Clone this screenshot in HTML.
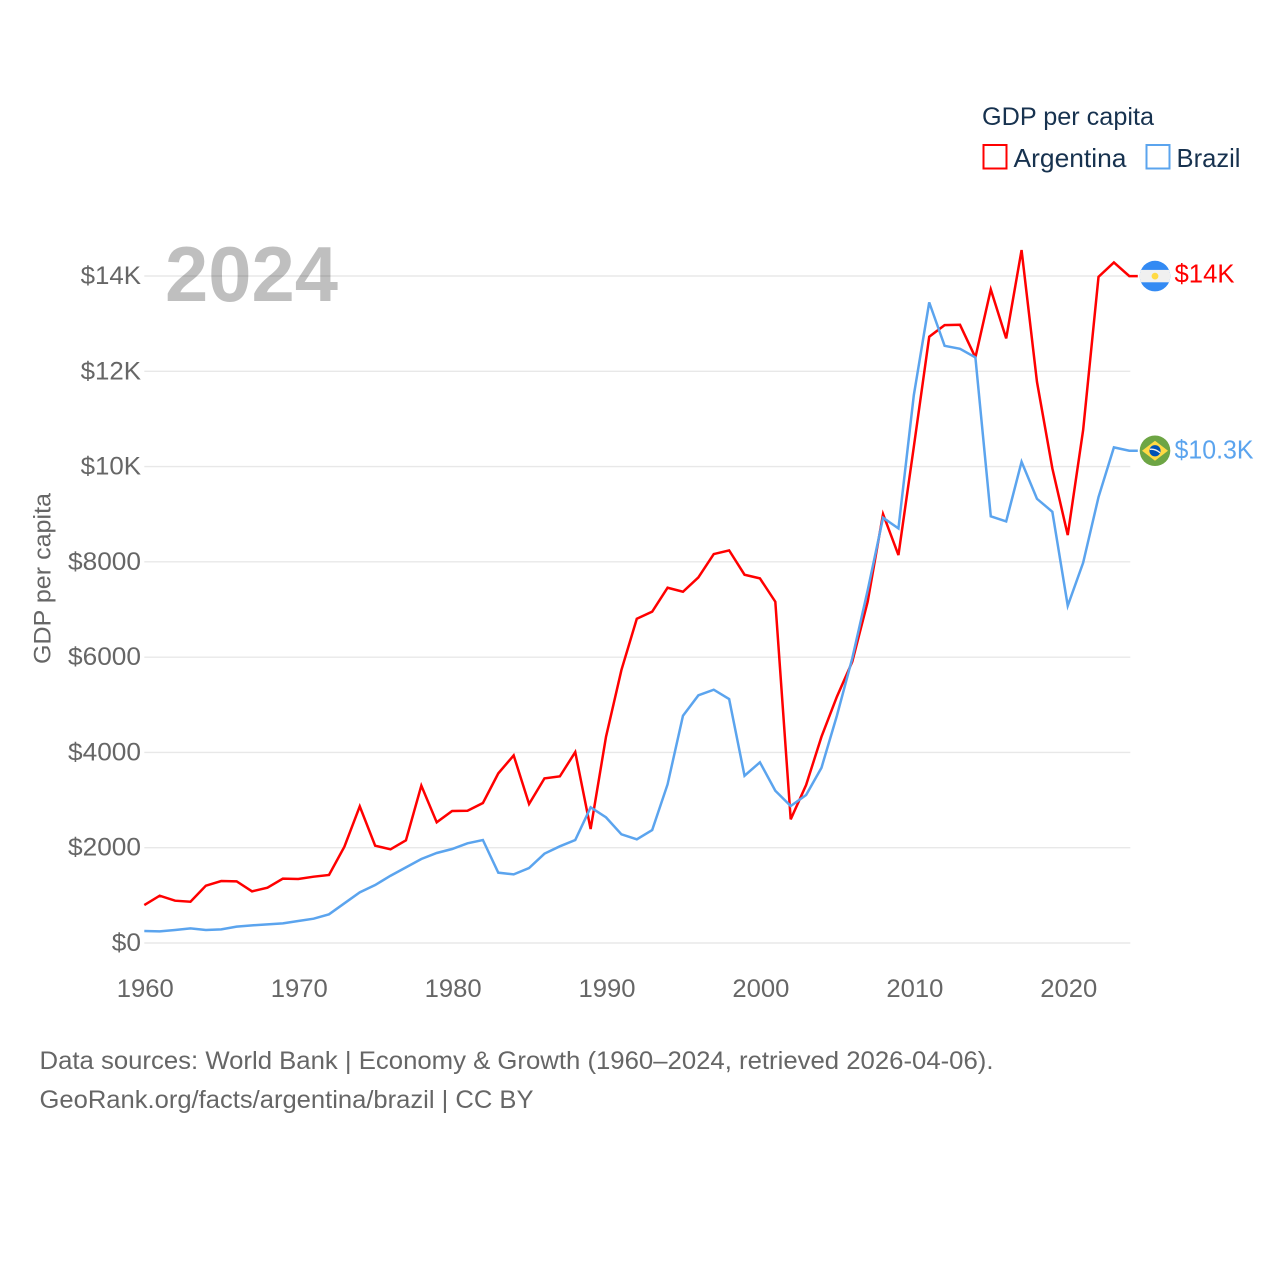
<!DOCTYPE html>
<html lang="en">
<head>
<meta charset="utf-8">
<title>GDP per capita: Argentina and Brazil</title>
<style>
html,body{margin:0;padding:0;background:#fff;width:1280px;height:1280px;overflow:hidden}
svg{display:block}
text{font-family:"Liberation Sans",sans-serif}
</style>
</head>
<body>
<svg id="chart" xmlns="http://www.w3.org/2000/svg" width="1280" height="1280" viewBox="0 0 1280 1280">
  <rect x="0" y="0" width="1280" height="1280" fill="#ffffff"/>
  <defs>
    <clipPath id="flag-clip-ar"><circle cx="0" cy="0" r="15.3"/></clipPath>
    <clipPath id="flag-clip-br"><circle cx="0" cy="0" r="15.3"/></clipPath>
  </defs>
  <g id="grid"></g>
  <g id="y-ticks"></g>
  <g id="x-ticks"></g>
  <text x="165" y="301" font-size="78" font-weight="bold" fill="#000000" fill-opacity="0.25" textLength="173" lengthAdjust="spacingAndGlyphs">2024</text>
  <text transform="translate(50.5,664) rotate(-90)" font-size="24.5" fill="#666666" textLength="171" lengthAdjust="spacingAndGlyphs">GDP per capita</text>
  <g id="series"></g>
  <g id="end-markers"></g>
  <g>
    <text x="982" y="125" font-size="25" fill="#17324f" textLength="172" lengthAdjust="spacingAndGlyphs">GDP per capita</text>
    <rect x="983.5" y="145" width="23" height="23.5" fill="none" stroke="#ff0000" stroke-width="2"/>
    <text x="1013.5" y="167" font-size="26" fill="#17324f" textLength="113" lengthAdjust="spacingAndGlyphs">Argentina</text>
    <rect x="1146.5" y="145" width="23" height="23.5" fill="none" stroke="#5ba4ee" stroke-width="2"/>
    <text x="1176.5" y="167" font-size="26" fill="#17324f" textLength="64" lengthAdjust="spacingAndGlyphs">Brazil</text>
  </g>
  <g>
    <text x="39.5" y="1069" font-size="25" fill="#666666" textLength="954" lengthAdjust="spacingAndGlyphs">Data sources: World Bank | Economy &amp; Growth (1960–2024, retrieved 2026-04-06).</text>
    <text x="39.5" y="1108" font-size="25" fill="#666666" textLength="494" lengthAdjust="spacingAndGlyphs">GeoRank.org/facts/argentina/brazil | CC BY</text>
  </g>
</svg>
<script>
const years = [1960,1961,1962,1963,1964,1965,1966,1967,1968,1969,1970,1971,1972,1973,1974,1975,1976,1977,1978,1979,1980,1981,1982,1983,1984,1985,1986,1987,1988,1989,1990,1991,1992,1993,1994,1995,1996,1997,1998,1999,2000,2001,2002,2003,2004,2005,2006,2007,2008,2009,2010,2011,2012,2013,2014,2015,2016,2017,2018,2019,2020,2021,2022,2023,2024];
const argentinaValues = [797,993,888,867,1203,1301,1294,1084,1161,1350,1343,1392,1427,2022,2868,2043,1966,2155,3302,2533,2770,2777,2938,3560,3938,2917,3455,3497,4008,2392,4330,5729,6806,6954,7457,7373,7674,8164,8241,7730,7653,7163,2596,3316,4330,5169,5904,7163,9003,8143,10416,12725,12970,12976,12290,13718,12690,14544,11780,9962,8562,10766,13983,14285,13998];
const brazilValues = [252,245,273,308,273,287,343,371,392,413,462,510,602,833,1064,1217,1412,1588,1763,1889,1973,2092,2162,1476,1441,1574,1875,2029,2162,2847,2637,2281,2176,2371,3330,4770,5198,5316,5121,3511,3792,3196,2875,3106,3679,4770,5975,7400,8926,8703,11500,13446,12535,12472,12291,8955,8849,10101,9324,9052,7079,7981,9360,10403,10332];
const yTickValues = [0,2000,4000,6000,8000,10000,12000,14000];
const yTickLabels = ["$0","$2000","$4000","$6000","$8000","$10K","$12K","$14K"];
const xTickValues = [1960,1970,1980,1990,2000,2010,2020];
const xTickLabels = ["1960","1970","1980","1990","2000","2010","2020"];
const argentinaEndLabel = "$14K";
const brazilEndLabel = "$10.3K";

const SVG_NS = "http://www.w3.org/2000/svg";
const plot = { left: 144.3, right: 1129.3, gridRight: 1130.3, top: 276, bottom: 943 };
const xScale = function (year) {
  return plot.left + (year - 1960) * (plot.right - plot.left) / (2024 - 1960);
};
const yScale = function (value) {
  return plot.bottom - value * (plot.bottom - plot.top) / 14000;
};
function make(tag, attrs, parent) {
  const el = document.createElementNS(SVG_NS, tag);
  Object.keys(attrs).forEach(function (k) { el.setAttribute(k, attrs[k]); });
  parent.appendChild(el);
  return el;
}

const grid = document.getElementById("grid");
const yTicks = document.getElementById("y-ticks");
const xTicks = document.getElementById("x-ticks");
const series = document.getElementById("series");
const markers = document.getElementById("end-markers");

yTickValues.forEach(function (v, i) {
  const line = make("line", { x1: plot.left, x2: plot.gridRight, y1: yScale(v), y2: yScale(v), stroke: "#e8e8e8", "stroke-width": 1.4 }, grid);
  
  
  const label = make("text", { x: 141, y: yScale(v) + 8, "text-anchor": "end", "font-size": 25, fill: "#666666" }, yTicks);
  
  
  label.textContent = yTickLabels[i];
  label.setAttribute("textLength", yTickLabels[i].length * 14.6 + (yTickLabels[i].indexOf("K") >= 0 ? 2 : 0));
  label.setAttribute("lengthAdjust", "spacingAndGlyphs");
});

xTickValues.forEach(function (v, i) {
  const label = make("text", { x: xScale(v) + 1, y: 997, "text-anchor": "middle", "font-size": 25, fill: "#666666", textLength: 57, lengthAdjust: "spacingAndGlyphs" }, xTicks);
  
  
  label.textContent = xTickLabels[i];
});

function linePoints(values) {
  const pts = values.map(function (v, i) { return xScale(years[i]).toFixed(2) + "," + yScale(v).toFixed(2); });
  const last = values[values.length - 1];
  pts.push((xScale(years[years.length - 1]) + 8.5).toFixed(2) + "," + yScale(last).toFixed(2));
  return pts.join(" ");
}

const argentinaLine = make("polyline", { points: linePoints(argentinaValues), fill: "none", stroke: "#ff0000", "stroke-width": 2.5, "stroke-linejoin": "miter" }, series);


const brazilLine = make("polyline", { points: linePoints(brazilValues), fill: "none", stroke: "#5ba4ee", "stroke-width": 2.5, "stroke-linejoin": "miter" }, series);



const flagX = 1155;
const arY = yScale(argentinaValues[argentinaValues.length - 1]);
const brY = yScale(brazilValues[brazilValues.length - 1]);

const arFlag = make("g", { transform: "translate(" + flagX + "," + arY + ")", "clip-path": "url(#flag-clip-ar)" }, markers);


make("rect", { x: -16, y: -16, width: 32, height: 32, fill: "#338af3" }, arFlag);
make("rect", { x: -16, y: -6.2, width: 32, height: 12.4, fill: "#f0f0f0" }, arFlag);
make("circle", { cx: 0, cy: 0, r: 3.4, fill: "#ffda44" }, arFlag);

const brFlag = make("g", { transform: "translate(" + flagX + "," + brY + ")", "clip-path": "url(#flag-clip-br)" }, markers);


make("rect", { x: -16, y: -16, width: 32, height: 32, fill: "#6da544" }, brFlag);
make("polygon", { points: "0,-10 13,0 0,10 -13,0", fill: "#ffda44" }, brFlag);
make("circle", { cx: 0, cy: 0, r: 5.6, fill: "#0052b4" }, brFlag);
make("path", { d: "M-5.2,-1.4 Q0,-2.2 5,2", fill: "none", stroke: "#f0f0f0", "stroke-width": 1.4 }, brFlag);

const arLabel = make("text", { x: 1174.5, y: arY + 6.5, "font-size": 26, fill: "#ff0000", textLength: 60, lengthAdjust: "spacingAndGlyphs" }, markers);


arLabel.textContent = argentinaEndLabel;

const brLabel = make("text", { x: 1174.5, y: brY + 7.5, "font-size": 26, fill: "#5ba4ee", textLength: 79, lengthAdjust: "spacingAndGlyphs" }, markers);


brLabel.textContent = brazilEndLabel;
</script>
</body>
</html>
